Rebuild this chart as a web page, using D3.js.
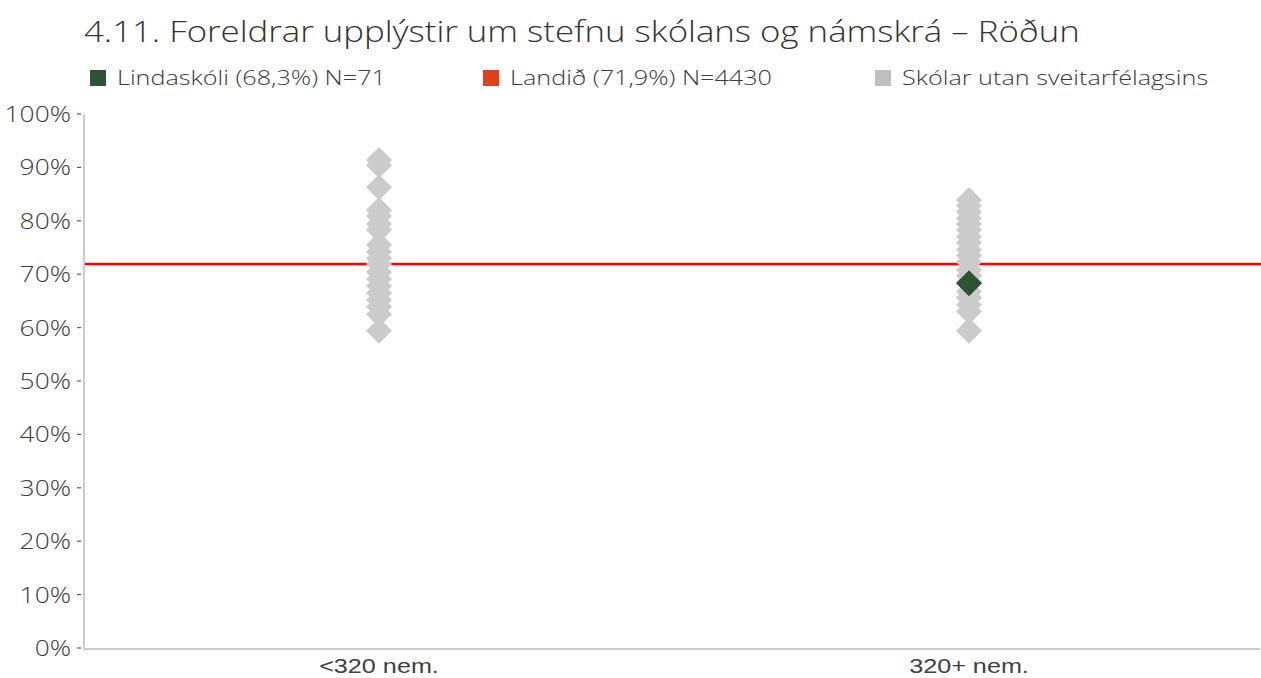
<!DOCTYPE html>
<html>
<head>
<meta charset="utf-8">
<script src="https://cdn.jsdelivr.net/npm/d3@7/dist/d3.min.js"></script>
<style>
  html, body { margin: 0; padding: 0; background: #ffffff; }
  svg { display: block; }
</style>
</head>
<body>
<svg id="chart" width="1261" height="678"></svg>
<script>
// Chart data
const title = "4.11. Foreldrar upplýstir um stefnu skólans og námskrá – Röðun";
const categories = ["<320 nem.", "320+ nem."];
const legendLabels = ["Lindaskóli (68,3%) N=71", "Landið (71,9%) N=4430", "Skólar utan sveitarfélagsins"];
const yTicks = [0, 10, 20, 30, 40, 50, 60, 70, 80, 90, 100];

// Other schools, one value per school (%), per size group
const otherSmall = [91.4, 90.4, 86.3, 82.0, 80.9, 79.4, 78.3, 75.5, 74.2, 73.0, 71.9, 70.4, 69.1, 67.8, 66.5, 65.2, 63.9, 62.5, 59.4];
const otherLarge = [83.9, 82.8, 81.7, 80.5, 79.4, 78.3, 77.0, 75.9, 74.6, 73.5, 72.3, 70.8, 69.7, 68.6, 66.7, 65.6, 64.3, 63.0, 59.4];
const schoolCategory = "320+ nem.";
const schoolValue = 68.3;
const nationalValue = 71.9;

const svg = d3.select("#chart");
const left = 84;

const x = d3.scaleBand().domain(categories).range([left, 1264]);
const y = d3.scaleLinear().domain([0, 100]).range([648, 114]);

const font = "'Open Sans', sans-serif";
const textColor = "#3a3a3a";
const stretch = 1.2; // typeface is set slightly wide

// Text helper: places a horizontally widened label at (tx, ty)
function label(parent, tx, ty, txt, opts) {
  return parent.append("text")
    .attr("transform", `translate(${tx},${ty}) scale(${stretch},1)`)
    .attr("text-anchor", opts.anchor || "start")
    .attr("font-family", opts.family || font)
    .attr("font-size", opts.size)
    .attr("font-weight", opts.weight || 300)
    .attr("fill", opts.fill || textColor)
    .text(txt);
}

// Title
label(svg, 84, 42, title, { size: 29, fill: "#333333" });

// Legend
const legendColors = ["#2f5233", "#e2401c", "#bfbfbf"];
const legendX = [90, 483, 875];
legendLabels.forEach((lab, i) => {
  svg.append("rect")
    .attr("x", legendX[i]).attr("y", 70)
    .attr("width", 16).attr("height", 16)
    .attr("fill", legendColors[i]);
  label(svg, legendX[i] + 27, 85, lab, { size: 21 });
});

// Y axis
const yAxis = svg.append("g").attr("transform", `translate(${left},0)`);
yAxis.append("line")
  .attr("x1", 0).attr("x2", 0).attr("y1", y(100)).attr("y2", y(0))
  .attr("stroke", "#cccccc").attr("stroke-width", 2);
yTicks.forEach(t => {
  yAxis.append("line")
    .attr("x1", -7).attr("x2", -3).attr("y1", y(t)).attr("y2", y(t))
    .attr("stroke", "#595959").attr("stroke-width", 1.2);
  label(yAxis, -13, y(t) + 8, t + "%", { size: 22, anchor: "end" });
});

// X axis
svg.append("line")
  .attr("x1", left - 1).attr("x2", 1260)
  .attr("y1", y(0) + 1).attr("y2", y(0) + 1)
  .attr("stroke", "#cccccc").attr("stroke-width", 2);
categories.forEach(c => {
  label(svg, x(c) + x.bandwidth() / 2, 673, c, {
    size: 21, anchor: "middle", weight: 400,
    family: "'Liberation Sans', Arial, sans-serif", fill: "#404040"
  });
});

// National average line
svg.append("line")
  .attr("x1", left + 1).attr("x2", 1261)
  .attr("y1", y(nationalValue)).attr("y2", y(nationalValue))
  .attr("stroke", "#ff0000").attr("stroke-width", 2.5);

// Diamonds
const diamond = (cx, cy, r) => `M${cx},${cy - r}L${cx + r},${cy}L${cx},${cy + r}L${cx - r},${cy}Z`;
const others = [
  ...otherSmall.map(v => ({ c: categories[0], v })),
  ...otherLarge.map(v => ({ c: categories[1], v }))
];
svg.append("g").selectAll("path").data(others).join("path")
  .attr("d", d => diamond(x(d.c) + x.bandwidth() / 2, y(d.v), 13))
  .attr("fill", "#cbcbcb");

svg.append("path")
  .attr("d", diamond(x(schoolCategory) + x.bandwidth() / 2, y(schoolValue), 13))
  .attr("fill", "#2f5233");
</script>
</body>
</html>
